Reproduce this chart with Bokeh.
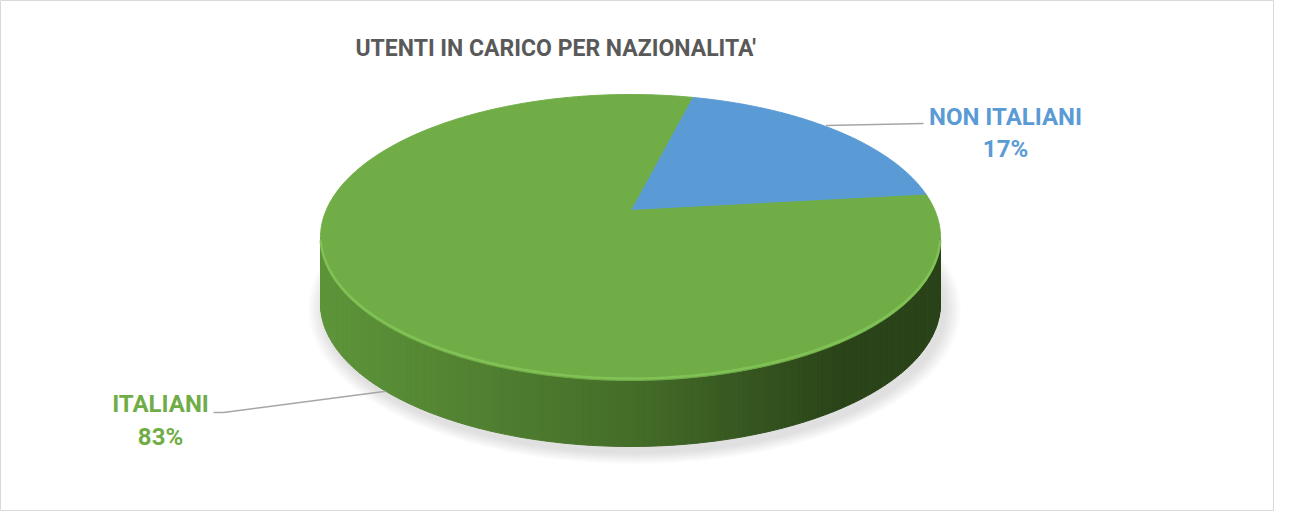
import math
from bokeh.plotting import figure
from bokeh.models import Range1d
from bokeh.core.properties import value
from bokeh.embed import file_html
from bokeh.resources import INLINE

# ---- data ----
title_text = "UTENTI IN  CARICO PER NAZIONALITA'"
categories = ["NON ITALIANI", "ITALIANI"]
values = [17, 83]
slice_colors = ["#5B9BD5", "#70AD47"]
label_colors = ["#5B9BD5", "#70AD47"]

# ---- geometry / layout ----
W, H = 1274, 511
CX, CY, RX, RY = 630.0, 237.0, 310.0, 143.0
AX, AY = 630.0, 210.0      # apex of the slices (perspective)
DEPTH = 66.0
START = 78.5               # first slice start angle (deg), clockwise

p = figure(width=W, height=H, output_backend="svg", toolbar_location=None,
           x_range=Range1d(0, W), y_range=Range1d(H, 0),
           min_border=0, background_fill_color="white",
           border_fill_color="white")
p.axis.visible = False
p.grid.visible = False
p.outline_line_color = "#D9D9D9"
p.outline_line_width = 1


def ex(t):
    return CX + RX * math.cos(math.radians(t))


def ey(t, dz=0.0):
    return CY - RY * math.sin(math.radians(t)) + dz


# soft shadow
for k in range(8):
    g = 2 + k * 3
    p.ellipse(x=CX + 4, y=CY + DEPTH + 6, width=2 * RX + g * 1.4, height=2 * RY + g,
              fill_color="#808080", fill_alpha=0.035, line_color=None)

# side (front half), gradient strips
n = 160
xs, ys, cols = [], [], []
c0 = (0x5E, 0x95, 0x3A)
c1 = (0x45, 0x6E, 0x29)
c2 = (0x2A, 0x43, 0x19)
for i in range(n):
    t0 = -180 + 180.0 * i / n
    t1 = -180 + 180.0 * (i + 1) / n
    xs.append([ex(t0), ex(t1), ex(t1), ex(t0)])
    ys.append([ey(t0), ey(t1), ey(t1, DEPTH), ey(t0, DEPTH)])
    f = (ex((t0 + t1) / 2) - (CX - RX)) / (2 * RX)
    if f < 0.5:
        u = f / 0.5
        c = tuple(int(c0[j] + (c1[j] - c0[j]) * u) for j in range(3))
    else:
        u = min(1.0, (f - 0.5) / 0.35)
        c = tuple(int(c1[j] + (c2[j] - c1[j]) * u) for j in range(3))
    cols.append("#%02x%02x%02x" % c)
p.patches(xs=xs, ys=ys, fill_color=cols, line_color=cols, line_width=1)

# top face slices
total = float(sum(values))
a = START
mids = []
for v, col in zip(values, slice_colors):
    span = 360.0 * v / total
    a1 = a - span
    m = max(2, int(span * 2))
    px = [AX] + [ex(a - span * k / m) for k in range(m + 1)]
    py = [AY] + [ey(a - span * k / m) for k in range(m + 1)]
    p.patch(px, py, fill_color=col, line_color=col, line_width=1)
    mids.append(a - span / 2)
    a = a1

# rim highlight on front edge
tt = [-178 + k for k in range(177)]
p.line([ex(t) for t in tt], [ey(t) - 2 for t in tt], line_color="#86C75A",
       line_width=2.5, line_alpha=0.8)

# leader lines
p.line([ex(mids[0] + 3), 923], [ey(mids[0] + 3) - 1, 123], line_color="#A6A6A6", line_width=1.5)
p.line([213, 223, ex(mids[1] - 10)], [412, 412, ey(mids[1] - 10, DEPTH)],
       line_color="#A6A6A6", line_width=1.5)

# labels
lab_x = [1005, 160]
name_y = [116, 403]
pct_y = [148, 436]
p.text(x=lab_x, y=name_y, text=categories, text_color=label_colors,
       text_font=value("Roboto"), text_font_style="bold", text_font_size="24px",
       text_align="center", text_baseline="middle")
p.text(x=lab_x, y=pct_y, text=["%d%%" % v for v in values], text_color=label_colors,
       text_font=value("Roboto"), text_font_style="bold", text_font_size="24px",
       text_align="center", text_baseline="middle")

# title
p.text(x=[558], y=[48], text=[title_text], text_color="#595959",
       text_font=value("Roboto"), text_font_style="bold", text_font_size="23px",
       text_align="center", text_baseline="middle")

open("out.html", "w").write(file_html(p, INLINE))
